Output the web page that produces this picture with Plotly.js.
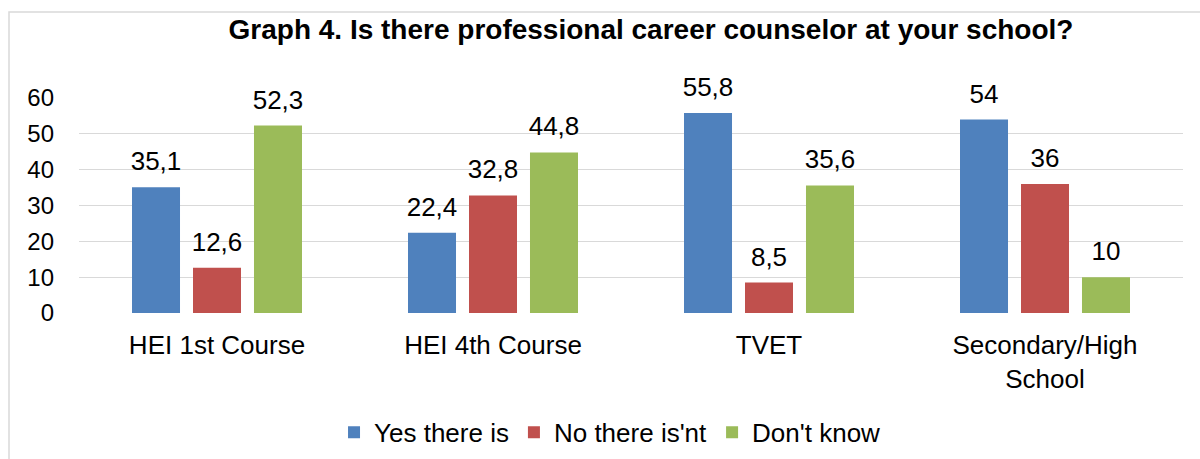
<!DOCTYPE html>
<html><head><meta charset="utf-8">
<script src="https://cdn.plot.ly/plotly-3.0.1.min.js"></script>
<style>html,body{margin:0;padding:0;background:#fff;}#chart{width:1200px;height:459px;}</style>
</head><body><div id="chart"></div>
<script>
const categories = ['HEI 1st Course', 'HEI 4th Course', 'TVET', 'Secondary/High<br>School'];
const seriesNames = ['Yes there is', "No there is'nt", "Don't know"];
const yesValues = [35.1, 22.4, 55.8, 54];
const noValues = [12.6, 32.8, 8.5, 36];
const dontKnowValues = [52.3, 44.8, 35.6, 10];
const yTickValues = [0, 10, 20, 30, 40, 50, 60];
const titleText = 'Graph 4. Is there professional career counselor at your school?';

const colors = ['#4F81BD', '#C0504D', '#9BBB59'];
const FONT = 'Liberation Sans, Arial, sans-serif';
const allValues = [yesValues, noValues, dontKnowValues];
const fmt = v => String(v).replace('.', ',');

const traces = [];
allValues.forEach((vals, i) => {
  traces.push({
    type: 'bar', name: seriesNames[i], x: categories, y: vals,
    marker: {color: colors[i]}, textposition: 'none', hoverinfo: 'skip'
  });
});
allValues.forEach((vals, i) => {
  traces.push({
    type: 'scatter', mode: 'markers+text', x: categories, y: vals,
    text: vals.map(fmt), textposition: 'top center',
    textfont: {family: FONT, size: 26, color: '#000'},
    marker: {size: 15.2, opacity: 0, color: colors[i]},
    showlegend: false, hoverinfo: 'skip', cliponaxis: false
  });
});

const layout = {
  width: 1200, height: 459,
  margin: {l: 79, r: 17, t: 98, b: 146, autoexpand: false},
  paper_bgcolor: '#fff', plot_bgcolor: '#fff',
  font: {family: FONT, color: '#000'},
  barmode: 'group', bargap: 0.337, bargroupgap: 0.213,
  scattermode: 'group', scattergap: 0.337,
  title: {text: '<b>' + titleText + '</b>', font: {family: FONT, size: 28, color: '#000'},
          x: 0.5425, xanchor: 'center', xref: 'container', y: 0.937, yanchor: 'middle', yref: 'container'},
  xaxis: {type: 'category', showline: false, zeroline: false, showgrid: false, ticks: '',
          automargin: false,
          tickfont: {family: FONT, size: 26, color: '#000'}, ticklabelstandoff: 14, fixedrange: true},
  yaxis: {range: [0, 60], tickvals: yTickValues, showline: false, zeroline: false,
          automargin: false,
          gridcolor: '#d9d9d9', gridwidth: 1.3, ticks: '',
          tickfont: {family: FONT, size: 24, color: '#000'}, ticklabelstandoff: 24, fixedrange: true},
  legend: {orientation: 'h', x: 0.481, xanchor: 'center', y: -0.555, yanchor: 'middle',
           font: {family: FONT, size: 26, color: '#000'}, traceorder: 'normal'},
  shapes: [{type: 'rect', xref: 'paper', yref: 'paper',
            x0: -70 / 1104, x1: 1130 / 1104, y0: -160 / 215, y1: 301 / 215,
            line: {color: '#d9d9d9', width: 1.5}, fillcolor: 'rgba(0,0,0,0)', layer: 'below'}]
};

Plotly.newPlot('chart', traces, layout, {displayModeBar: false, staticPlot: true});
</script></body></html>
